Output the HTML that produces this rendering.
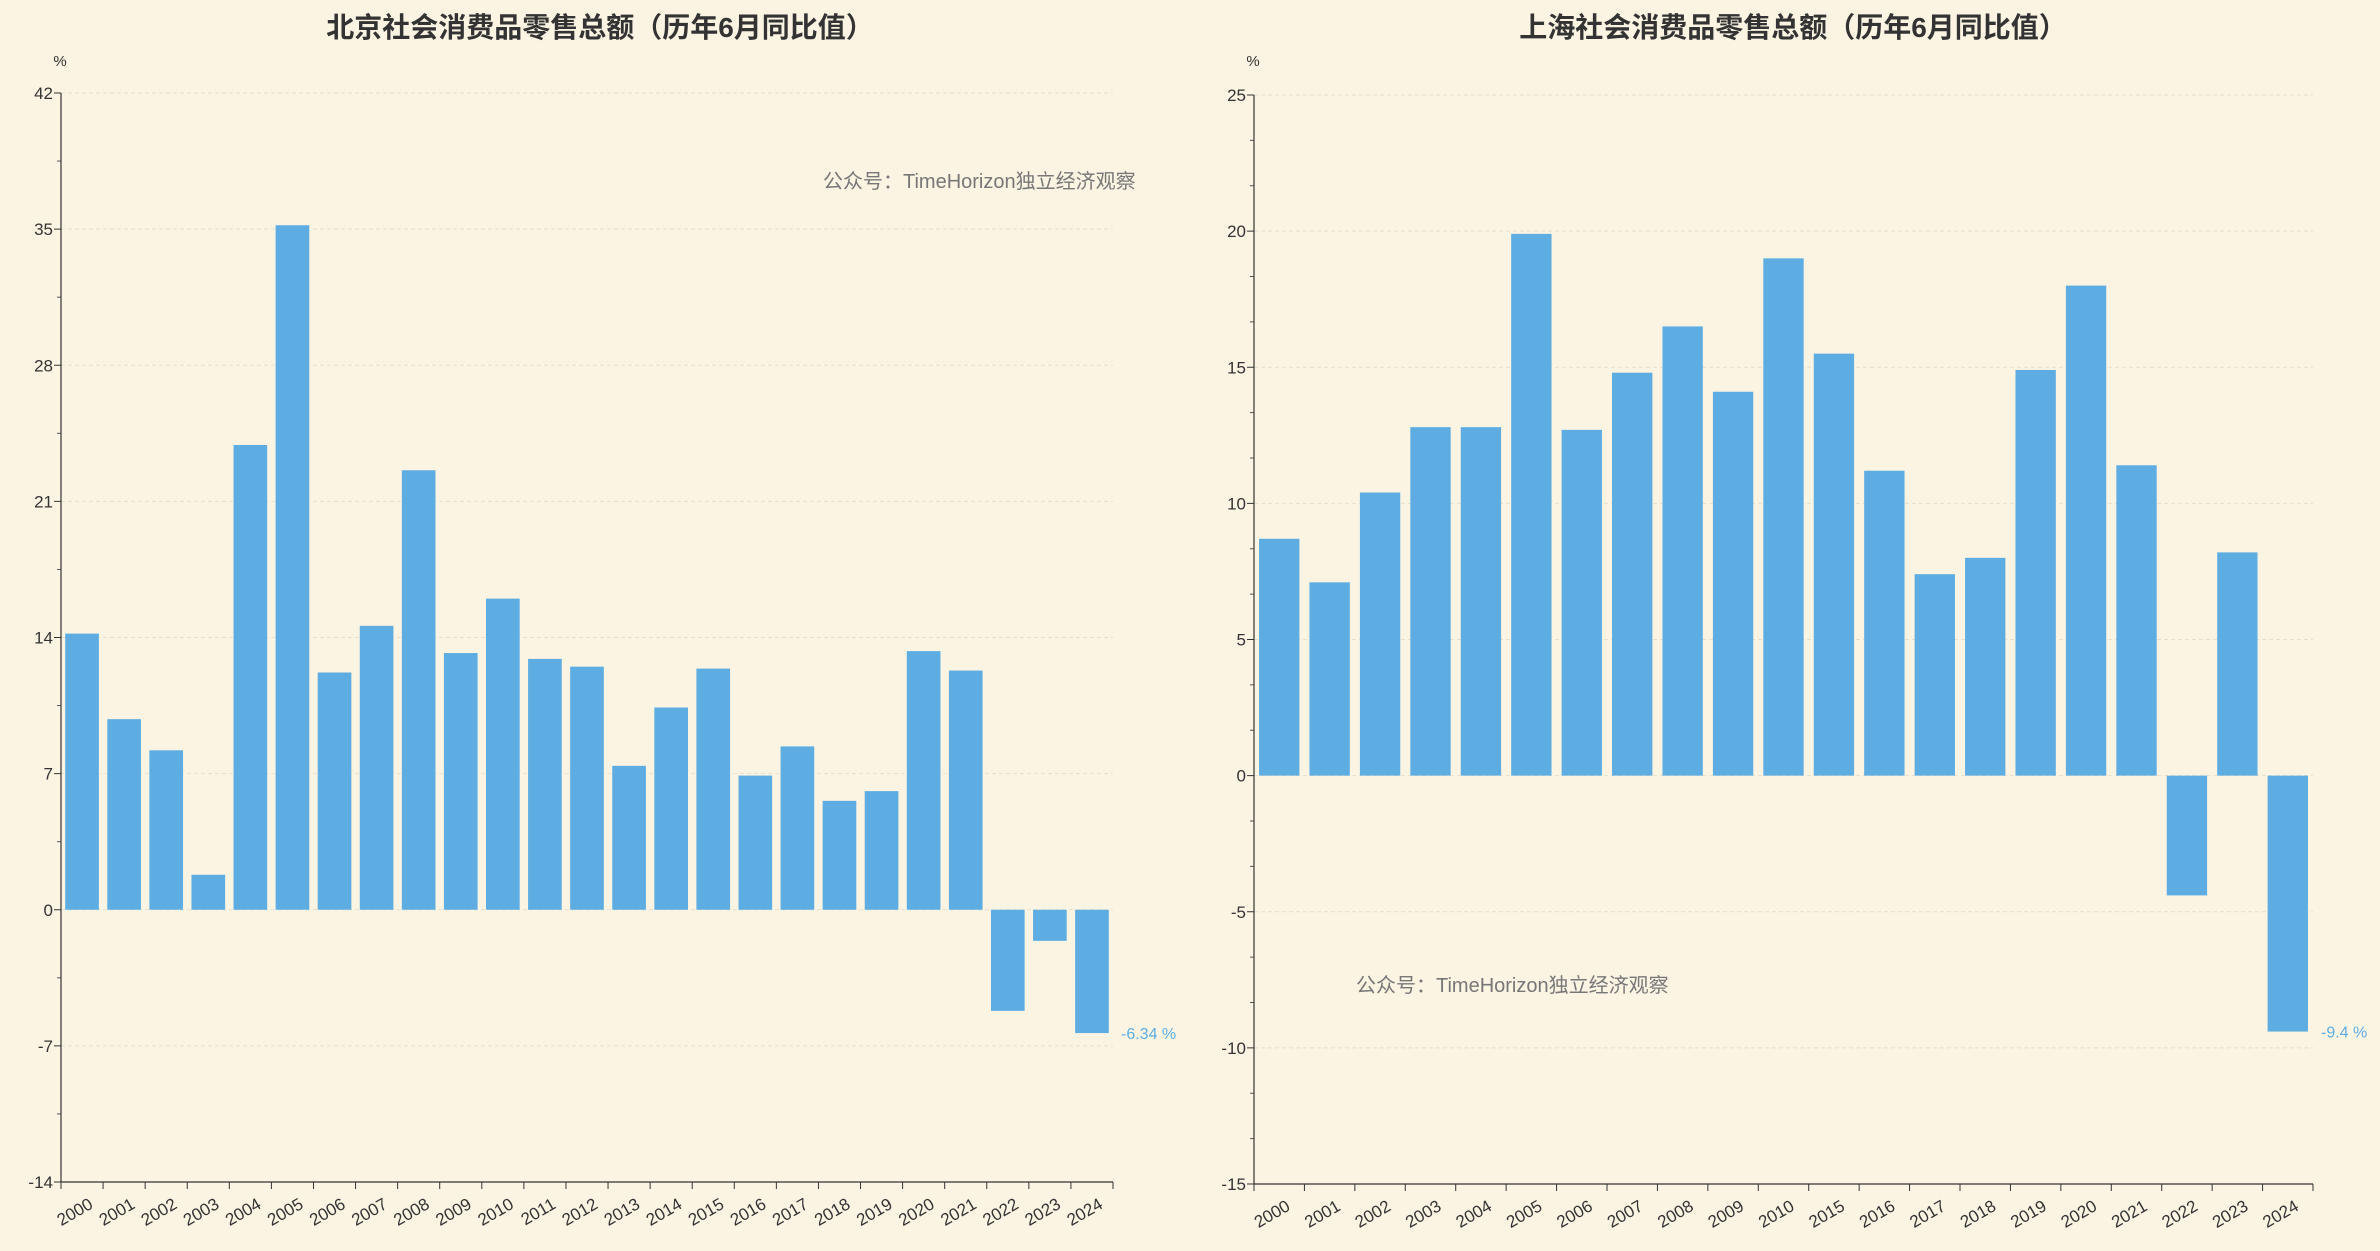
<!DOCTYPE html>
<html><head><meta charset="utf-8"><style>
body{margin:0;background:#fbf4e3;}
svg{display:block;font-family:"Liberation Sans","Noto Sans CJK SC",sans-serif;}
</style></head><body>
<svg id="c" width="2380" height="1251" viewBox="0 0 2380 1251"></svg>
<script>
const bjCategories=["2000","2001","2002","2003","2004","2005","2006","2007","2008","2009","2010","2011","2012","2013","2014","2015","2016","2017","2018","2019","2020","2021","2022","2023","2024"];
const bjValues=[14.2,9.8,8.2,1.8,23.9,35.2,12.2,14.6,22.6,13.2,16.0,12.9,12.5,7.4,10.4,12.4,6.9,8.4,5.6,6.1,13.3,12.3,-5.2,-1.6,-6.34];
const bjTicks=[-14,-7,0,7,14,21,28,35,42];
const shCategories=["2000","2001","2002","2003","2004","2005","2006","2007","2008","2009","2010","2015","2016","2017","2018","2019","2020","2021","2022","2023","2024"];
const shValues=[8.7,7.1,10.4,12.8,12.8,19.9,12.7,14.8,16.5,14.1,19.0,15.5,11.2,7.4,8.0,14.9,18.0,11.4,-4.4,8.2,-9.4];
const shTicks=[-15,-10,-5,0,5,10,15,20,25];
const NS="http://www.w3.org/2000/svg";
const svg=document.getElementById('c');
function mk(tag,attrs,parent,text){const e=document.createElementNS(NS,tag);for(const k in attrs)e.setAttribute(k,attrs[k]);if(text!==undefined)e.textContent=text;(parent||svg).appendChild(e);return e;}
function chart(o){
  const g=mk('g',{});
  
  
  const min=o.ticks[0],max=o.ticks[o.ticks.length-1];
  const y=v=>o.yBottom-(v-min)/(max-min)*(o.yBottom-o.yTop);
  const band=(o.x1-o.x0)/o.cats.length;
  const x=i=>o.x0+i*band;
  const t=mk('text',{x:o.titleX,y:37,'text-anchor':'middle','font-size':28,'font-weight':'bold',fill:'#333'},g,o.title);
  
  
  const u=mk('text',{x:o.x0-1,y:66,'text-anchor':'middle','font-size':15,fill:'#333'},g,'%');
  
  
  const step=o.ticks[1]-o.ticks[0];
  o.ticks.forEach((v,k)=>{
    const yy=y(v);
    if(v!==min){const gl=mk('line',{x1:o.x0,x2:o.x1,y1:yy,y2:yy,stroke:'#e6dfcc','stroke-dasharray':'4,3','stroke-width':1},g);
      
      }
    mk('line',{x1:o.x0-7,x2:o.x0,y1:yy,y2:yy,stroke:'#333'},g);
    const tl=mk('text',{x:o.x0-8,y:yy+6,'text-anchor':'end','font-size':17,fill:'#333'},g,String(v));
    
    
    if(k<o.ticks.length-1){for(let m=1;m<o.minor;m++){const my=y(v+step*m/o.minor);mk('line',{x1:o.x0-4,x2:o.x0,y1:my,y2:my,stroke:'#555'},g);}}
  });
  o.vals.forEach((v,i)=>{
    const bw=band*0.8;const bx=x(i)+band*0.1;
    const y0=y(0),yv=y(v);
    const r=mk('rect',{x:bx,y:Math.min(y0,yv),width:bw,height:Math.abs(yv-y0),fill:'#5dade2'},g);
    
    
  });
  const ya=mk('line',{x1:o.x0,x2:o.x0,y1:o.yTop,y2:o.yBottom,stroke:'#333','stroke-width':1.2},g);
  
  
  const xa=mk('line',{x1:o.x0,x2:o.x1,y1:o.yBottom,y2:o.yBottom,stroke:'#333','stroke-width':1.2},g);
  
  
  for(let i=0;i<=o.cats.length;i++){mk('line',{x1:x(i),x2:x(i),y1:o.yBottom,y2:o.yBottom+7,stroke:'#333'},g);}
  o.cats.forEach((c,i)=>{
    const cx=x(i)+band/2+6,cy=o.yBottom+15;
    const tl=mk('text',{x:cx,y:cy,'text-anchor':'end','font-size':17,fill:'#333',transform:`rotate(-30 ${cx} ${cy})`,'dominant-baseline':'hanging'},g,c);
    
    
  });
  const last=o.vals.length-1;
  const lb=mk('text',{x:x(last)+band+8,y:y(o.vals[last])+6,'font-size':16,fill:'#5dade2'},g,o.lastLabel);
  
  
  const wm=mk('text',{x:o.wmX,y:o.wmY,'font-size':20,fill:'#777'},g,'公众号：TimeHorizon独立经济观察');
  
  
}
chart({name:'beijing-chart',title:'北京社会消费品零售总额（历年6月同比值）',titleX:600,x0:61,x1:1113,yTop:93,yBottom:1182,ticks:bjTicks,minor:2,cats:bjCategories,vals:bjValues,lastLabel:bjValues[bjValues.length-1]+' %',wmX:823,wmY:188});
chart({name:'shanghai-chart',title:'上海社会消费品零售总额（历年6月同比值）',titleX:1793,x0:1254,x1:2313,yTop:95,yBottom:1184,ticks:shTicks,minor:3,cats:shCategories,vals:shValues,lastLabel:shValues[shValues.length-1]+' %',wmX:1356,wmY:992});
</script>
</body></html>
